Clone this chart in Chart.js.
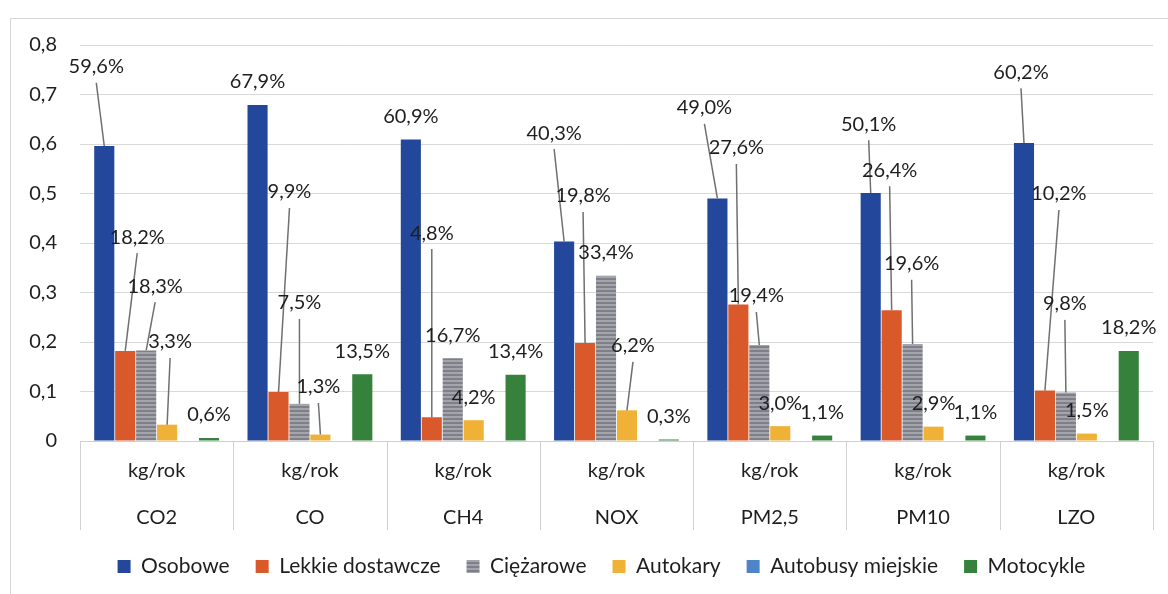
<!DOCTYPE html>
<html>
<head>
<meta charset="utf-8">
<script src="https://cdn.jsdelivr.net/npm/chart.js@4.4.0/dist/chart.umd.min.js"></script>
<style>
    html, body { margin: 0; padding: 0; background: #fff; }
    #frame { position: absolute; left: 10px; top: 18px; width: 1200px; height: 620px; border: 1px solid #d6d6d6; }
    #wrap  { position: absolute; left: 0; top: 0; width: 1168px; height: 594px; }
</style>
</head>
<body>
<div id="frame"></div>
<div id="wrap"><canvas id="myChart" width="1168" height="594"></canvas></div>
<script>
var categories = ['CO2', 'CO', 'CH4', 'NOX', 'PM2,5', 'PM10', 'LZO'];
var unit       = 'kg/rok';

var osobowe   = [0.596, 0.679, 0.609, 0.403, 0.490, 0.501, 0.602];
var lekkie    = [0.182, 0.099, 0.048, 0.198, 0.276, 0.264, 0.102];
var ciezarowe = [0.183, 0.075, 0.167, 0.334, 0.194, 0.196, 0.098];
var autokary  = [0.033, 0.013, 0.042, 0.062, 0.030, 0.029, 0.015];
var autobusy  = [0, 0, 0, 0, 0, 0, 0];
var motocykle = [0.006, 0.135, 0.134, 0.003, 0.011, 0.011, 0.182];

// where the dragged labels sit: [x shift px, height in axis units], null = right above the bar
var osobowePlace   = [[-8, 0.756], null, null, [-10, 0.622], [-13, 0.673], [-2, 0.64], [-3, 0.745]];
var lekkiePlace    = [[12, 0.412], [11, 0.503], [0, 0.42], [-2, 0.495], [-2, 0.592], [-2, 0.547], [14, 0.499]];
var ciezarowePlace = [[9, 0.313], [0, 0.279], null, null, [-3, 0.293], [-1, 0.358], [-1, 0.277]];
var autokaryPlace  = [[3, 0.2], [-2, 0.109], null, [6, 0.192], null, null, null];
var motocyklePlace = [null, null, null, null, null, null, null];

var FONT = 'Lato';

function stripes(c1, c2) {
    var p = document.createElement('canvas');
    p.width = 4; p.height = 4;
    var g = p.getContext('2d');
    g.fillStyle = c1; g.fillRect(0, 0, 4, 2);
    g.fillStyle = c2; g.fillRect(0, 2, 4, 2);
    return g.createPattern(p, 'repeat');
}

var barLabels = {
    id: 'barLabels',
    afterDatasetsDraw: function(chart) {
        var ctx = chart.ctx;
        var yScale = chart.scales.y;
        ctx.save();
        ctx.font = '20px ' + FONT;
        ctx.textAlign = 'center';
        ctx.textBaseline = 'middle';
        chart.data.datasets.forEach(function(ds, d) {
            if (!ds.place) return;
            chart.getDatasetMeta(d).data.forEach(function(bar, i) {
                var p = ds.place[i];
                var text = (ds.data[i] * 100).toFixed(1).replace('.', ',') + '%';
                var lx = bar.x, ly = bar.y - 23;
                if (p) {
                    lx = bar.x + p[0];
                    ly = yScale.getPixelForValue(p[1]);
                    ctx.strokeStyle = '#707070';
                    ctx.lineWidth = 1.5;
                    ctx.beginPath();
                    ctx.moveTo(lx, ly + 16);
                    ctx.lineTo(bar.x, bar.y);
                    ctx.stroke();
                }
                ctx.fillStyle = '#1e1e1e';
                ctx.fillText(text, lx, ly);
            });
        });
        ctx.restore();
    }
};

// the boxes under the axis (multi level category look)
var axisBoxes = {
    id: 'axisBoxes',
    afterLayout: function(chart) {
        // legend sits a bit right of the canvas middle
        chart.legend.left += 20;
        chart.legend.right += 20;
    },
    afterDraw: function(chart) {
        var x = chart.scales.x, a = chart.chartArea, ctx = chart.ctx;
        var step = x.getPixelForValue(1) - x.getPixelForValue(0);
        var start = x.getPixelForValue(0) - step / 2;
        ctx.save();
        ctx.strokeStyle = '#d0d0d0';
        ctx.lineWidth = 1;
        ctx.beginPath();
        for (var i = 0; i <= categories.length; i++) {
            var px = Math.round(start + i * step) + 0.5;
            ctx.moveTo(px, a.bottom);
            ctx.lineTo(px, a.bottom + 89);
        }
        ctx.stroke();
        ctx.restore();
    }
};

var canvas = document.getElementById('myChart');
var gray = stripes('#a4a4ab', '#7e7f89');

var data = {
    labels: categories.map(function(c) { return [unit, c]; }),
    datasets: [
        { label: 'Osobowe',           backgroundColor: '#23479a', data: osobowe,   place: osobowePlace },
        { label: 'Lekkie dostawcze',  backgroundColor: '#d9592a', data: lekkie,    place: lekkiePlace },
        { label: 'Ciężarowe',         backgroundColor: gray,      data: ciezarowe, place: ciezarowePlace },
        { label: 'Autokary',          backgroundColor: '#efb237', data: autokary,  place: autokaryPlace },
        { label: 'Autobusy miejskie', backgroundColor: '#4f84c8', data: autobusy },
        { label: 'Motocykle',         backgroundColor: '#36823c', data: motocykle, place: motocyklePlace },
    ]
};

var config = {
    type: 'bar',
    data: data,
    plugins: [barLabels, axisBoxes],
    options: {
        responsive: false,
        animation: false,
        devicePixelRatio: 1,
        categoryPercentage: 0.82,
        barPercentage: 0.96,
        layout: { padding: { left: 10, right: 15, top: 45, bottom: 7 } },
        plugins: {
            tooltip: { enabled: false },
            legend: {
                position: 'bottom',
                labels: {
                    boxWidth: 13, boxHeight: 13, padding: 26,
                    color: '#1e1e1e',
                    font: { family: FONT, size: 21 }
                }
            }
        },
        scales: {
            x: {
                grid: { display: false, drawTicks: false },
                border: { display: true, color: '#cfcfcf' },
                ticks: {
                    color: '#1e1e1e', padding: 6,
                    font: { family: FONT, size: 20, lineHeight: 2.35 }
                },
                afterFit: function(scale) { scale.height = 89; }
            },
            y: {
                min: 0, max: 0.8,
                grid: { color: '#d9d9d9', drawTicks: false },
                border: { display: false },
                ticks: {
                    stepSize: 0.1, padding: 23, color: '#1e1e1e',
                    font: { family: FONT, size: 20 },
                    callback: function(v) { return v === 0 ? '0' : v.toFixed(1).replace('.', ','); }
                },
                afterFit: function(scale) { scale.width = 70; }
            }
        }
    }
};

var myChart = new Chart(canvas, config);
</script>
</body>
</html>
